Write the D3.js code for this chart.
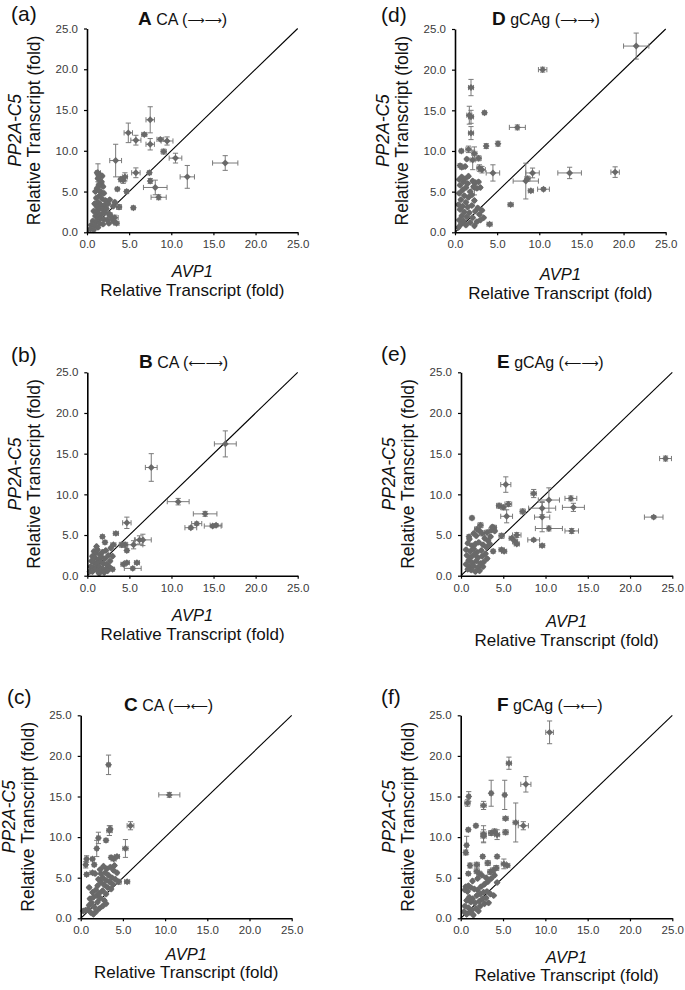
<!DOCTYPE html>
<html>
<head>
<meta charset="utf-8">
<script src="https://cdn.jsdelivr.net/npm/d3@7"></script>
<style>
  body { margin: 0; background: #fff; }
  svg { display: block; font-family: "Liberation Sans", Arial, sans-serif; }
</style>
</head>
<body>
<div class="chart"></div>
<script>
// panel letters and titles
var panelTags = ["(a)", "(b)", "(c)", "(d)", "(e)", "(f)"];
var titleBold = ["A", "B", "C", "D", "E", "F"];
var titleName = ["CA", "CA", "CA", "gCAg", "gCAg", "gCAg"];
var titleArrows = ["\u27F6\u27F6", "\u27F5\u27F6", "\u27F6\u27F5",
                   "\u27F6\u27F6", "\u27F5\u27F6", "\u27F6\u27F5"];
var tickVals = [0, 5, 10, 15, 20, 25];

// [AVP1, PP2A-C5, xErr, yErr]
var ptsA = [
  [16.4,8.5,1.5,0.9],[7.5,13.8,0.5,1.6],[4.9,12.2,0.5,1.2],[6.8,12.0,0.3,0.2],[5.8,11.3,0.6,0.6],
  [7.5,10.8,0.5,0.7],[8.7,11.4,0.4,0.2],[9.5,11.2,0.7,0.5],[9.1,9.9,0.3,0.3],[10.5,9.1,0.75,0.6],
  [3.4,8.8,0.7,2.0],[11.9,6.8,0.85,1.4],[5.8,7.3,0.5,0.6],[7.4,7.3,0.2,0.2],[7.5,6.3,0.2,0.3],
  [8.1,5.5,1.4,0.9],[8.5,4.3,0.9,0.3],[4.3,6.4,0.3,0.4],[4.0,6.5,0.2,0.3],[4.5,6.8,0.3,0.5],
  [4.7,5.0,0.2,0.2],[3.6,5.3,0.2,0.2],[5.5,3.0,0.2,0.2],[3.8,3.1,0.3,0.3],[3.3,1.8,0.4,0.3],
  [3.5,1.1,0.3,0.2],[2.7,2.1,0.3,0.3],[1.3,7.3,0.3,1.1],[1.6,6.0,0.4,0.5],
  [1.2,7.3],[1.5,7.1],[1.8,6.9],[1.3,6.6],[1.7,6.2],[1.4,5.8],[1.9,5.6],[1.2,5.4],[1.6,5.0],
  [2.0,4.8],[1.5,4.5],[1.1,4.2],[1.8,4.1],[2.2,3.9],[1.3,3.7],[0.9,3.5],[1.6,3.4],[2.0,3.3],
  [2.5,3.5],[1.2,3.1],[1.5,2.9],[1.9,2.8],[2.3,2.9],[0.8,2.6],[1.1,2.5],[1.4,2.3],[1.7,2.2],
  [2.1,2.4],[2.6,2.3],[1.0,2.0],[1.3,1.8],[1.6,1.7],[2.0,1.6],[2.4,1.5],[0.7,1.4],[1.1,1.3],
  [1.5,1.1],[1.9,1.0],[0.5,0.9],[0.9,0.8],[1.3,0.6],[0.4,0.4],[0.8,0.3],[2.8,2.0],[3.0,1.6],
  [3.2,1.3],[2.6,1.1],[3.1,3.2],[2.7,4.0],[1.0,5.0],[1.4,6.9],[3.3,3.7]
];

var ptsB = [
  [16.4,16.2,1.3,1.6],[7.6,13.3,0.7,1.7],[10.8,9.1,1.3,0.4],[14.0,7.6,1.4,0.3],[13.0,6.4,0.6,0.2],
  [12.3,5.9,0.7,0.2],[14.9,6.1,1.0,0.2],[15.3,6.2,0.7,0.2],[4.7,6.5,0.5,0.7],[3.4,5.2,0.3,0.2],
  [1.8,4.8,0.2,0.2],[2.1,4.1,0.2,0.2],[6.2,4.4,0.5,0.5],[6.6,4.4,1.0,0.7],[5.5,3.8,1.1,0.5],
  [4.5,3.8,0.3,0.3],[4.1,3.8,0.3,0.3],[4.7,3.1,0.2,0.2],[3.1,3.8,0.3,0.2],[4.3,1.4,0.3,0.2],
  [4.7,1.6,0.3,0.2],[5.9,1.6,0.3,0.2],[5.4,0.9,1.0,0.2],[3.0,0.8,0.2,0.2],
  [0.8,3.0],[1.0,2.8],[1.2,3.2],[1.5,2.6],[1.8,2.9],[2.2,3.1],[0.6,2.4],[0.9,2.2],[1.3,2.0],
  [1.7,2.3],[2.1,2.1],[2.5,2.5],[0.5,1.8],[0.8,1.6],[1.1,1.5],[1.5,1.7],[1.9,1.5],[2.3,1.4],
  [2.7,1.8],[0.4,1.1],[0.7,1.0],[1.0,0.9],[1.4,1.1],[1.8,0.9],[2.2,0.8],[0.3,0.5],[0.6,0.5],
  [1.2,0.6],[1.6,0.5],[2.0,0.4],[2.6,1.1],[1.1,3.6],[2.4,0.6],[3.0,2.4],[2.8,3.4],[1.4,0.3]
];

var ptsC = [
  [3.3,18.9,0.2,1.2],[10.5,15.2,1.25,0.3],[5.9,11.4,0.4,0.5],[3.4,10.8,0.3,0.6],[3.5,11.0,0.2,0.4],
  [2.1,9.9,0.2,0.7],[3.0,9.6,0.2,0.2],[5.3,8.6,0.3,1.1],[1.9,8.6,0.2,1.0],[0.7,7.3,0.2,0.4],
  [0.6,6.6,0.2,0.4],[1.4,7.3,0.2,0.2],[1.6,6.6,0.2,0.2],[4.3,7.6,0.3,0.2],[3.9,7.3,0.3,0.2],
  [3.6,7.5,0.2,0.2],[0.7,5.4,0.2,0.2],[1.4,5.6,0.3,0.2],[5.5,4.5,0.3,0.2],[4.5,4.5,0.3,0.3],
  [0.3,0.9],[0.6,1.0],[0.9,1.1],[1.2,0.7],[1.5,0.5],[1.8,0.8],[2.2,1.2],[2.6,1.5],[1.0,1.6],
  [1.3,1.9],[1.6,1.4],[2.0,2.0],[1.1,2.4],[1.5,2.6],[1.9,2.8],[2.3,2.5],[2.8,2.2],[3.0,1.8],
  [1.4,3.2],[1.8,3.5],[2.2,3.1],[2.6,3.4],[3.0,3.0],[1.0,3.8],[2.0,4.0],[2.4,4.4],[2.8,4.1],
  [3.2,3.8],[3.6,3.6],[2.1,4.8],[2.6,5.0],[3.0,4.7],[3.4,4.5],[3.8,4.2],[2.4,5.5],[2.9,5.6],
  [3.3,5.3],[3.7,5.0],[4.1,4.8],[3.1,6.1],[3.5,6.3],[3.9,5.9],[4.3,5.6],[1.7,5.5],[2.3,6.0],
  [4.0,6.5],[2.7,6.4]
];

var ptsD = [
  [21.5,22.9,1.5,1.6],[10.4,20.0,0.5,0.3],[1.9,17.8,0.3,1.0],[1.7,14.4,0.3,1.1],[1.9,14.2,0.3,0.8],
  [3.5,14.7,0.2,0.2],[1.9,12.2,0.3,0.8],[7.4,12.9,0.95,0.3],[5.1,10.9,0.2,0.3],[3.7,10.6,0.2,0.3],
  [0.75,10.0,0.2,0.2],[1.6,10.2,0.3,0.4],[2.3,9.7,0.3,0.8],[2.8,9.1,0.3,0.3],[2.1,8.9,0.3,1.2],
  [0.6,8.2,0.2,0.2],[0.8,8.0,0.2,0.2],[2.9,7.9,0.3,0.4],[3.2,7.7,0.4,0.4],[4.5,7.3,0.8,1.0],
  [9.2,7.3,0.8,0.6],[13.6,7.3,1.4,0.7],[19.0,7.4,0.5,0.65],[8.4,6.3,1.5,2.2],[8.6,6.6,0.3,0.3],
  [9.0,5.1,0.3,0.2],[10.5,5.3,0.7,0.2],[6.6,3.4,0.3,0.2],[4.1,1.0,0.3,0.2],[2.3,5.5,0.3,0.9],
  [0.5,6.5],[0.8,6.8],[1.2,6.6],[1.0,6.2],[1.5,6.0],[2.1,6.3],[2.4,6.1],[2.8,6.2],[0.6,5.8],
  [1.3,5.5],[2.2,5.6],[2.6,5.4],[3.0,5.5],[0.9,5.2],[1.8,5.0],[0.5,4.8],[1.1,4.5],[1.6,4.3],
  [2.0,4.6],[0.7,4.0],[1.3,3.7],[2.3,3.9],[0.4,3.4],[0.9,3.2],[1.5,3.1],[2.0,3.3],[2.7,3.0],
  [3.2,2.7],[0.6,2.8],[1.1,2.5],[1.7,2.4],[2.4,2.6],[2.9,2.2],[0.8,2.0],[1.4,1.9],[2.1,1.8],
  [3.4,1.8],[0.5,1.5],[1.0,1.4],[1.8,1.2],[2.6,1.3],[3.0,1.5],[0.7,1.0],[1.3,0.9],[2.3,0.8],
  [0.4,0.6],[1.6,6.9],[1.4,9.0],[1.2,8.1]
];

var ptsE = [
  [24.2,14.4,0.7,0.3],[22.8,7.2,1.1,0.2],[5.3,11.2,0.6,0.95],[8.6,10.1,0.3,0.5],[13.0,9.5,0.7,0.3],
  [10.4,9.3,1.25,1.5],[9.6,8.3,1.6,0.8],[13.3,8.4,1.3,0.5],[9.6,7.2,0.9,1.8],[10.4,5.8,1.6,0.3],
  [13.1,5.5,0.8,0.3],[8.6,4.4,0.7,0.2],[9.6,3.7,0.3,0.2],[4.5,8.6,0.3,0.3],[5.0,8.4,0.3,0.3],
  [5.6,8.8,0.4,0.3],[5.4,7.3,0.7,0.8],[7.3,7.9,0.3,0.3],[1.3,7.1,0.2,0.2],[6.6,5.0,0.5,0.3],
  [6.4,4.2,0.3,0.3],[6.6,3.9,0.3,0.2],[6.0,4.6,0.3,0.2],[4.8,3.2,0.3,0.2],[5.1,3.0,0.3,0.2],
  [4.8,4.9,0.3,0.3],[3.9,5.9,0.3,0.3],[3.6,5.6,0.3,0.3],[3.1,5.3,0.3,0.3],[2.5,5.2,0.3,0.3],
  [3.8,3.0,0.2,0.2],[2.3,6.2,0.3,0.3],[1.9,5.7,0.3,0.3],[0.95,4.8,0.2,0.2],
  [1.0,4.5],[1.5,5.2],[1.8,4.9],[2.2,5.5],[2.8,4.6],[3.2,4.3],[0.8,4.0],[1.3,3.7],[1.7,3.9],
  [2.1,4.1],[2.6,3.8],[3.0,3.5],[3.4,3.9],[0.6,3.2],[1.1,3.0],[1.5,3.3],[1.9,2.9],[2.4,3.1],
  [2.9,2.7],[0.7,2.5],[1.2,2.3],[1.6,2.6],[2.0,2.2],[2.5,2.4],[3.1,2.1],[0.9,1.9],[1.3,1.6],
  [1.8,1.8],[2.3,1.5],[2.7,1.7],[0.6,1.4],[1.0,1.1],[1.5,1.2],[2.0,1.0],[2.6,1.1],[1.2,0.7],
  [1.7,0.5],[2.2,0.6],[0.8,0.8],[3.5,4.8],[4.0,5.5],[3.7,6.0]
];

var ptsF = [
  [10.5,22.9,0.45,1.4],[5.7,19.1,0.3,0.75],[7.7,16.5,0.6,0.95],[3.6,15.4,0.2,1.6],[5.2,15.2,0.2,1.8],
  [0.95,15.0,0.2,0.6],[0.8,14.2,0.3,0.4],[2.7,13.9,0.3,0.5],[5.3,12.3,0.3,0.2],[6.5,11.8,0.3,2.4],
  [7.4,11.4,0.6,0.5],[1.8,11.4,0.2,0.2],[0.9,10.9,0.2,0.2],[2.7,10.4,0.3,1.0],[2.7,10.1,0.3,0.8],
  [3.6,10.5,0.3,0.3],[4.0,10.7,0.3,0.3],[4.3,10.3,0.3,0.6],[5.3,10.6,0.3,0.3],[0.7,9.0,0.2,1.1],
  [0.6,8.1,0.2,0.3],[4.3,7.6,0.2,0.2],[2.6,7.6,0.2,0.2],[5.1,6.7,0.3,0.6],[5.5,6.5,0.3,0.2],
  [1.1,6.5,0.2,0.3],[1.9,6.6,0.3,0.3],[3.2,6.8,0.3,0.3],[0.9,5.5,0.2,0.2],[1.9,5.8,0.3,0.3],
  [2.2,5.5,0.3,0.3],[3.5,5.7,0.3,0.3],[3.8,5.9,0.3,0.3],[4.2,6.2,0.3,0.3],
  [0.6,3.9],[0.9,4.0],[1.2,3.8],[0.5,3.5],[0.8,3.3],[1.6,3.6],[2.0,3.5],[2.4,3.9],[2.8,4.2],
  [3.2,4.5],[3.6,4.9],[4.0,5.3],[1.0,2.6],[1.4,2.4],[1.9,2.8],[2.3,3.0],[2.7,3.2],[3.1,3.3],
  [3.5,3.0],[3.9,2.8],[0.7,2.2],[1.2,2.0],[1.7,1.9],[2.2,2.1],[2.6,2.4],[3.0,2.5],[0.5,1.5],
  [0.9,1.3],[1.3,1.0],[1.8,1.2],[2.3,1.5],[2.8,1.8],[0.4,0.8],[0.7,0.5],[1.1,0.7],[1.5,0.4],
  [2.1,0.9],[3.3,1.9],[2.5,5.3],[3.0,5.0],[1.4,4.6],[2.0,4.9],[4.3,4.4]
];

var allPts = [ptsA, ptsB, ptsC, ptsD, ptsE, ptsF];

// layout of each panel on the page
var layout = [
  {x0: 87,  x1: 297.7, top: 28.5,  bot: 232.3, tagX: 11,  tagY: 21,  titleX: 138, xl1: 45, xl2: 64},
  {x0: 87.3,x1: 297.7, top: 372.3, bot: 575.7, tagX: 11,  tagY: 362, titleX: 139, xl1: 45, xl2: 64},
  {x0: 80.7,x1: 291.7, top: 715.3, bot: 918.3, tagX: 7,   tagY: 704, titleX: 124, xl1: 42, xl2: 60},
  {x0: 455, x1: 665.7, top: 29,    bot: 232.3, tagX: 381, tagY: 22,  titleX: 492, xl1: 48, xl2: 67},
  {x0: 461, x1: 672.3, top: 372.3, bot: 575.7, tagX: 381, tagY: 361, titleX: 497, xl1: 51, xl2: 70},
  {x0: 460.7,x1: 672.3,top: 715.3, bot: 918.3, tagX: 381, tagY: 704, titleX: 497, xl1: 45, xl2: 63}
];

var svg = d3.select(".chart")
  .append("svg")
  .attr("width", 685)
  .attr("height", 990);

svg.append("rect").attr("width", 685).attr("height", 990).attr("fill", "#fff");

var marker = d3.symbol().type(d3.symbolSquare).size(24);

layout.forEach(function(L, i) {
  var g = svg.append("g");
  var data = allPts[i];

  var x = d3.scaleLinear().domain([0, 25]).range([L.x0, L.x1]);
  var y = d3.scaleLinear().domain([0, 25]).range([L.bot, L.top]);

  // diagonal y = x
  g.append("line")
    .attr("x1", x(0)).attr("y1", y(0))
    .attr("x2", x(25)).attr("y2", y(25))
    .attr("stroke", "#000")
    .attr("stroke-width", 1.1);

  // error bars
  var eb = g.append("g")
    .attr("stroke", "#7a7a7a")
    .attr("stroke-width", 1)
    .attr("fill", "none");

  data.forEach(function(d) {
    var xe = d.length > 2 ? d[2] : 0.12;
    var ye = d.length > 3 ? d[3] : 0.12;
    var cx = x(d[0]), cy = y(d[1]);
    var cap = 2.6;
    var xa = x(Math.max(0, d[0] - xe)), xb = x(d[0] + xe);
    var ya = y(Math.max(0, d[1] - ye)), yb = y(d[1] + ye);
    eb.append("path")
      .attr("d", "M" + xa + "," + cy + "H" + xb +
        "M" + xa + "," + (cy - cap) + "V" + (cy + cap) +
        "M" + xb + "," + (cy - cap) + "V" + (cy + cap) +
        "M" + cx + "," + ya + "V" + yb +
        "M" + (cx - cap) + "," + ya + "H" + (cx + cap) +
        "M" + (cx - cap) + "," + yb + "H" + (cx + cap));
  });

  // markers
  g.append("g").selectAll("path")
    .data(data)
    .enter()
    .append("path")
    .attr("d", marker)
    .attr("transform", d => `translate(${x(d[0])},${y(d[1])}) rotate(45)`)
    .attr("fill", "#696969");

  // axes
  var bottomAxis = d3.axisBottom(x).tickValues(tickVals).tickFormat(d3.format(".1f"))
    .tickSize(3).tickSizeOuter(0).tickPadding(5);
  var leftAxis = d3.axisLeft(y).tickValues(tickVals).tickFormat(d3.format(".1f"))
    .tickSize(3).tickSizeOuter(0).tickPadding(6);

  var xa = g.append("g")
    .attr("transform", `translate(0,${L.bot})`)
    .call(bottomAxis);
  var ya = g.append("g")
    .attr("transform", `translate(${L.x0},0)`)
    .call(leftAxis);

  [xa, ya].forEach(function(a) {
    a.select(".domain").attr("stroke", "#000").attr("stroke-width", 1.6);
    a.selectAll(".tick line").attr("stroke", "#000").attr("stroke-width", 1.2);
    a.selectAll(".tick text")
      .attr("fill", "#3a3a3a")
      .style("font-size", "11.5px")
      .style("font-family", "'Liberation Sans', Arial, sans-serif");
  });

  // panel tag
  g.append("text")
    .attr("x", L.tagX).attr("y", L.tagY)
    .style("font-size", "21px")
    .attr("fill", "#111")
    .text(panelTags[i]);

  // title
  var t = g.append("text")
    .attr("x", L.titleX).attr("y", L.top - 4)
    .attr("fill", "#111");
  t.append("tspan").style("font-size", "19px").style("font-weight", "bold").text(titleBold[i]);
  t.append("tspan").style("font-size", "16px").text(" " + titleName[i] + " (");
  t.append("tspan").style("font-size", "12px")
    .style("font-family", "'DejaVu Sans', sans-serif")
    .attr("dy", -1)
    .text(titleArrows[i]);
  t.append("tspan").style("font-size", "16px").attr("dy", 1).text(")");

  // y axis title
  var midY = (L.top + L.bot) / 2;
  g.append("text")
    .attr("transform", `translate(${L.x0 - 66},${midY}) rotate(-90)`)
    .attr("text-anchor", "middle")
    .style("font-size", "17.5px")
    .style("font-style", "italic")
    .attr("fill", "#111")
    .text("PP2A-C5");
  g.append("text")
    .attr("transform", `translate(${L.x0 - 47},${midY}) rotate(-90)`)
    .attr("text-anchor", "middle")
    .style("font-size", "17.5px")
    .attr("fill", "#111")
    .text("Relative Transcript (fold)");

  // x axis title
  var midX = (L.x0 + L.x1) / 2;
  g.append("text")
    .attr("x", midX).attr("y", L.bot + L.xl1)
    .attr("text-anchor", "middle")
    .style("font-size", "16.5px")
    .style("font-style", "italic")
    .attr("fill", "#111")
    .text("AVP1");
  g.append("text")
    .attr("x", midX).attr("y", L.bot + L.xl2)
    .attr("text-anchor", "middle")
    .style("font-size", "17px")
    .attr("fill", "#111")
    .text("Relative Transcript (fold)");
});
</script>
</body>
</html>
